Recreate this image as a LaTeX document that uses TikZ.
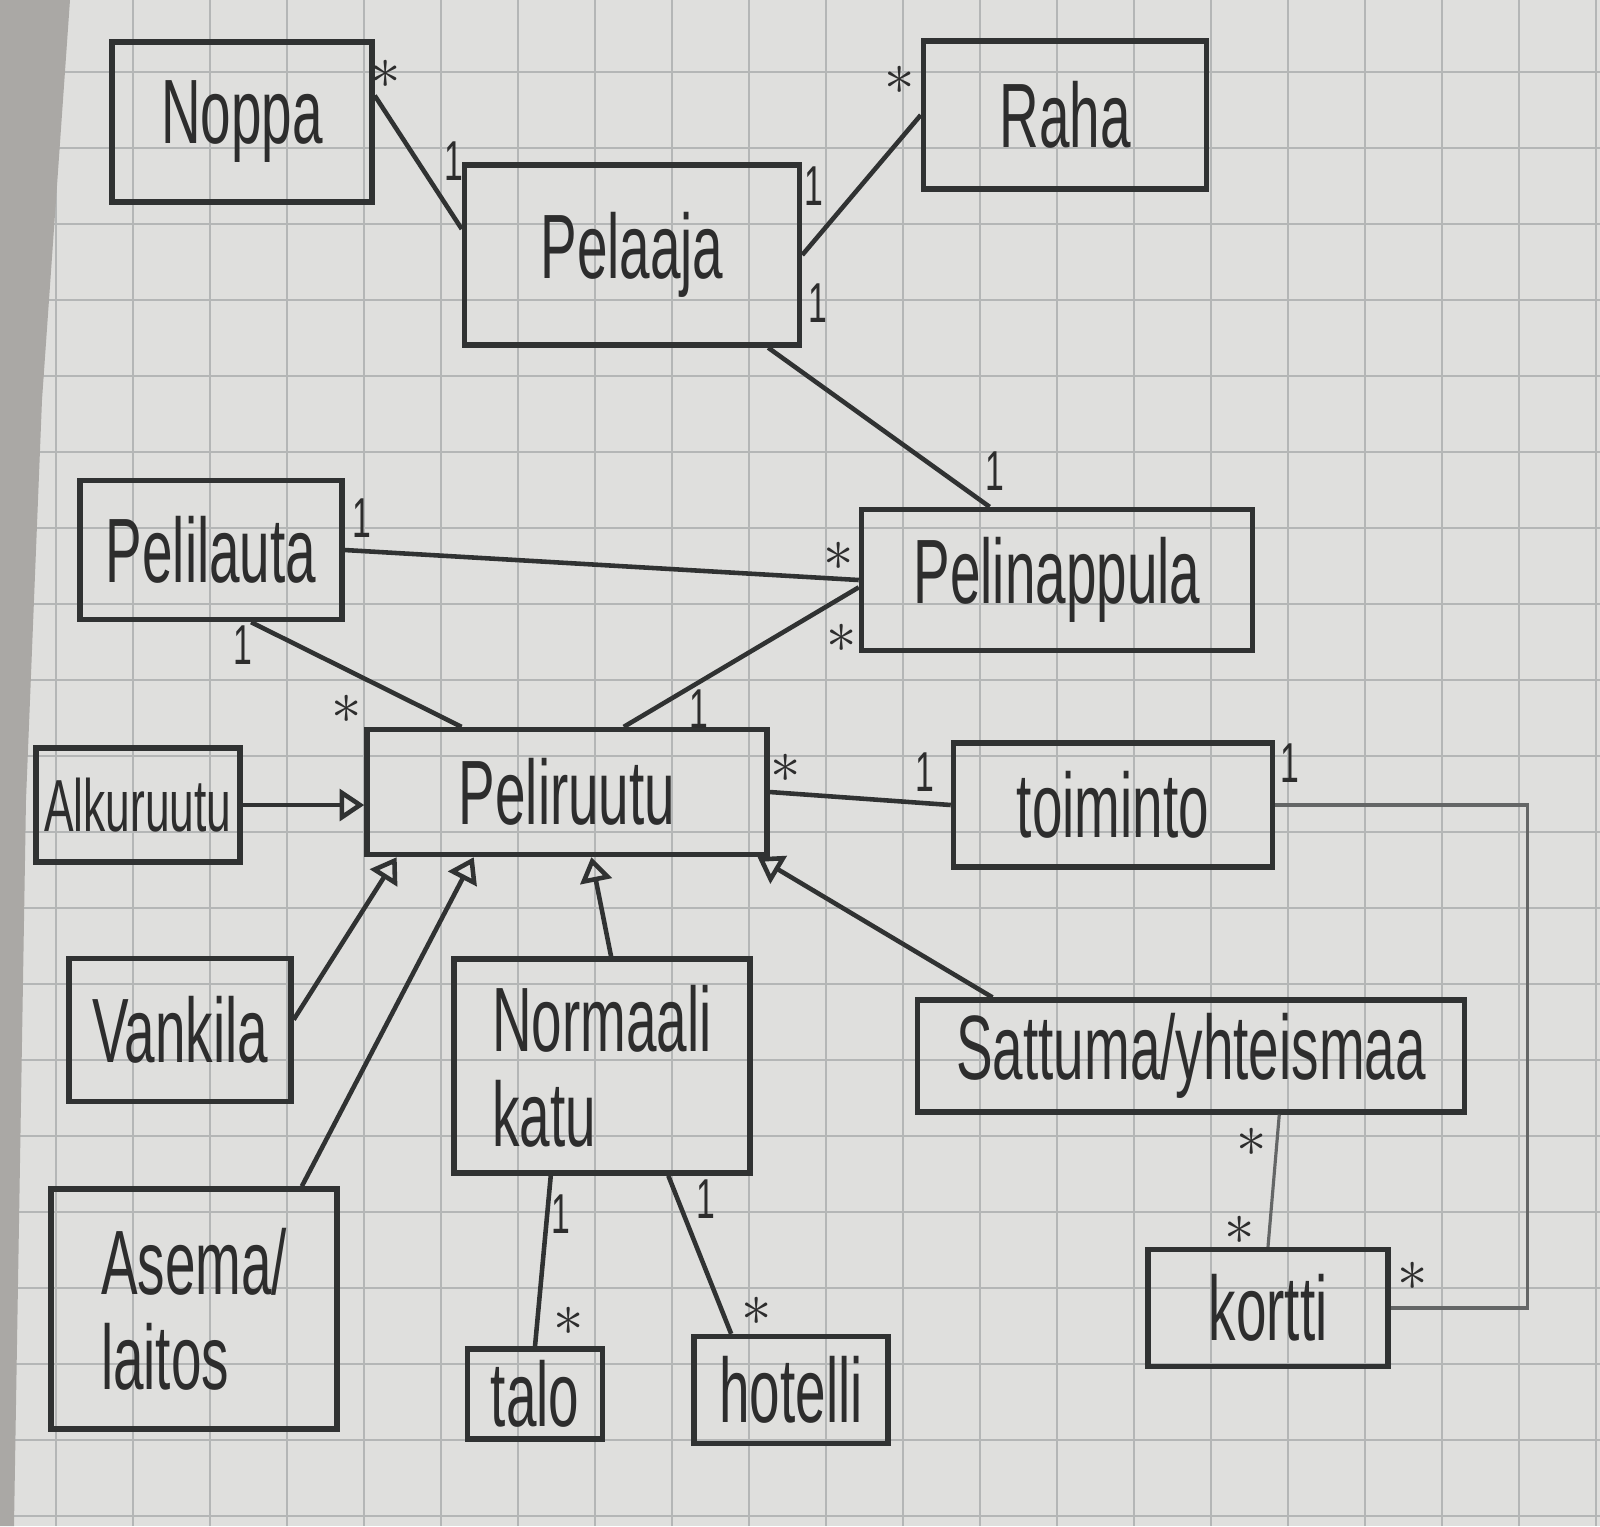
\documentclass[tikz,border=0pt]{standalone}
\usepackage{fontspec}
\setmainfont[FakeStretch=0.6]{Liberation Sans}
\usetikzlibrary{calc}
\usetikzlibrary{arrows.meta}

\definecolor{paper}{RGB}{223,223,221}
\definecolor{desk}{RGB}{170,168,165}
\definecolor{gridc}{RGB}{180,182,182}
\definecolor{pencil}{RGB}{48,50,50}
\definecolor{ink}{RGB}{45,45,45}
\definecolor{faint}{RGB}{100,102,102}

\newcommand{\boxfont}{\fontsize{26}{27}\selectfont}
\newcommand{\multfont}{\fontsize{16}{18}\selectfont}

\tikzset{
  klass/.style={draw=pencil, line width=1.5pt, inner sep=0pt, font=\boxfont, text=ink},
  assoc/.style={draw=pencil, line width=1.3pt},
  thinassoc/.style={draw=faint, line width=0.9pt},
  inherit/.style={assoc, -{Triangle[open,width=9pt,length=7pt]}},
  mult/.style={font=\multfont, text=ink, inner sep=0pt},
  gridline/.style={draw=gridc, line width=0.6pt}
}

\begin{document}
\begin{tikzpicture}[x=0.01cm, y=-0.01cm]
% paper
\fill[paper] (0,0) rectangle (1600,1526);
\useasboundingbox (0,0) rectangle (1600,1526);
\foreach \gx in {56,133,...,1600} {
 \draw[gridline] (\gx,0) -- (\gx,1526);
}
\foreach \gy in {72,148,...,1526} {
 \draw[gridline] (0,\gy) -- (1600,\gy);
}
\fill[desk] (0,0) -- (70,0) -- (42,400) -- (26,800) -- (14,1526) -- (0,1526) -- cycle;

% classes
\node[klass, minimum width=2.6cm, minimum height=1.6cm] (noppa) at (242,122) {Noppa};
\node[klass, minimum width=2.83cm, minimum height=1.48cm] (raha) at (1065,115) {Raha};
\node[klass, minimum width=3.35cm, minimum height=1.8cm] (pelaaja) at (632,255) {Pelaaja};
\node[klass, minimum width=2.62cm, minimum height=1.39cm] (pelilauta) at (211,550) {Pelilauta};
\node[klass, minimum width=3.91cm, minimum height=1.41cm] (pelinappula) at (1057,580) {Pelinappula};
\node[klass, minimum width=2.04cm, minimum height=1.14cm, font=\fontsize{21}{24}\selectfont] (alkuruutu) at (138,805) {Alkuruutu};
\node[klass, minimum width=4cm, minimum height=1.25cm] (peliruutu) at (567,792) {Peliruutu};
\node[klass, minimum width=3.19cm, minimum height=1.24cm] (toiminto) at (1113,805) {toiminto};
\node[klass, minimum width=2.22cm, minimum height=1.43cm] (vankila) at (180,1030) {Vankila};
\node[klass, minimum width=2.96cm, minimum height=2.14cm, align=left] (normaali) at (602,1066) {Normaali\\katu};
\node[klass, minimum width=5.46cm, minimum height=1.12cm] (sattuma) at (1191,1056) {Sattuma/yhteismaa};
\node[klass, minimum width=2.86cm, minimum height=2.4cm, align=left] (asema) at (194,1309) {Asema/\\laitos};
\node[klass, minimum width=1.35cm, minimum height=0.9cm] (talo) at (535,1394) {talo};
\node[klass, minimum width=1.94cm, minimum height=1.07cm] (hotelli) at (791,1390) {hotelli};
\node[klass, minimum width=2.4cm, minimum height=1.17cm] (kortti) at (1268,1308) {kortti};

% associations
\draw[assoc] ($(noppa.north east)!0.34!(noppa.south east)$) -- ($(pelaaja.north west)!0.36!(pelaaja.south west)$);
\draw[assoc] (raha.west) -- (pelaaja.east);
\draw[assoc] ($(pelaaja.south west)!0.9!(pelaaja.south east)$) -- ($(pelinappula.north west)!0.33!(pelinappula.north east)$);
\draw[assoc] (pelilauta.east) -- (pelinappula.west);
\draw[assoc] ($(pelilauta.south west)!0.65!(pelilauta.south east)$) -- ($(peliruutu.north west)!0.24!(peliruutu.north east)$);
\draw[assoc] ($(peliruutu.north west)!0.64!(peliruutu.north east)$) -- ($(pelinappula.north west)!0.55!(pelinappula.south west)$);
\draw[assoc] (peliruutu.east) -- (toiminto.west);
\draw[thinassoc] (toiminto.east) -- ++(252,0) |- (kortti.east);
\draw[thinassoc] ($(sattuma.south west)!0.66!(sattuma.south east)$) -- (kortti.north);
\draw[assoc] ($(normaali.south west)!0.33!(normaali.south east)$) -- (talo.north);
\draw[assoc] ($(normaali.south west)!0.72!(normaali.south east)$) -- ($(hotelli.north west)!0.2!(hotelli.north east)$);

% inheritance
\draw[inherit] (alkuruutu.east) -- (alkuruutu.east -| peliruutu.west);
\draw[inherit] ($(vankila.north east)!0.43!(vankila.south east)$) -- ($(peliruutu.south west)!0.08!(peliruutu.south east)$);
\draw[inherit] ($(asema.north west)!0.87!(asema.north east)$) -- ($(peliruutu.south west)!0.27!(peliruutu.south east)$);
\draw[inherit] ($(normaali.north west)!0.53!(normaali.north east)$) -- ($(peliruutu.south west)!0.56!(peliruutu.south east)$);
\draw[inherit] ($(sattuma.north west)!0.14!(sattuma.north east)$) -- ($(peliruutu.south west)!0.97!(peliruutu.south east)$);

% multiplicities
\node[mult] (m-noppa) at (386,74) {$\ast$};
\node[mult] (m-pelaaja-n) at (454,161) {1};
\node[mult] (m-raha) at (900,80) {$\ast$};
\node[mult] (m-pelaaja-r) at (814,186) {1};
\node[mult] (m-pelaaja-p) at (818,303) {1};
\node[mult] (m-nappula-p) at (995,471) {1};
\node[mult] (m-lauta-n) at (362,518) {1};
\node[mult] (m-nappula-l) at (839,556) {$\ast$};
\node[mult] (m-lauta-r) at (243,645) {1};
\node[mult] (m-ruutu-l) at (347,709) {$\ast$};
\node[mult] (m-ruutu-n) at (699,709) {1};
\node[mult] (m-nappula-r) at (842,638) {$\ast$};
\node[mult] (m-ruutu-t) at (786,768) {$\ast$};
\node[mult] (m-toiminto-r) at (925,772) {1};
\node[mult] (m-toiminto-k) at (1290,763) {1};
\node[mult] (m-kortti-t) at (1413,1276) {$\ast$};
\node[mult] (m-sattuma-k) at (1252,1142) {$\ast$};
\node[mult] (m-kortti-s) at (1240,1230) {$\ast$};
\node[mult] (m-katu-t) at (561,1214) {1};
\node[mult] (m-talo) at (569,1321) {$\ast$};
\node[mult] (m-katu-h) at (706,1199) {1};
\node[mult] (m-hotelli) at (757,1311) {$\ast$};
\end{tikzpicture}
\end{document}
